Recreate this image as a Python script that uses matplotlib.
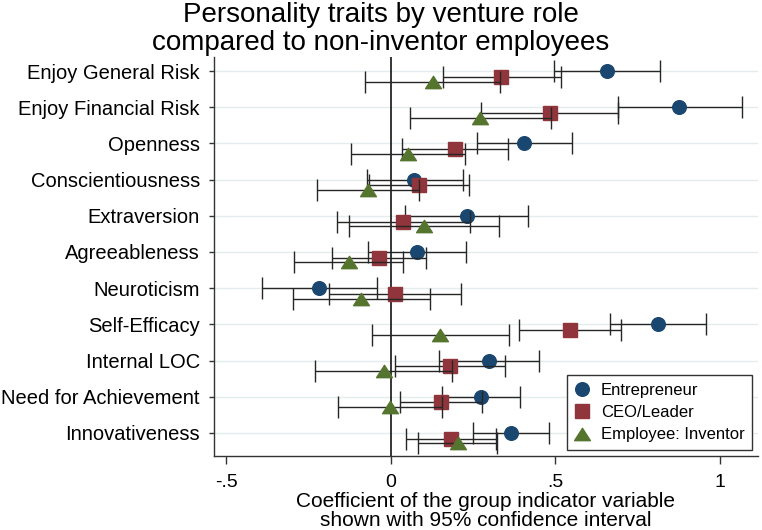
import matplotlib
matplotlib.use('Agg')
import matplotlib.pyplot as plt
from matplotlib.lines import Line2D
from matplotlib.path import Path
import numpy as np

plt.rcParams['font.family'] = ['Liberation Sans', 'DejaVu Sans']

# ---------------- data ----------------
traits = ['Enjoy General Risk', 'Enjoy Financial Risk', 'Openness', 'Conscientiousness',
          'Extraversion', 'Agreeableness', 'Neuroticism', 'Self-Efficacy',
          'Internal LOC', 'Need for Achievement', 'Innovativeness']

ent_coef = [0.656, 0.875, 0.405, 0.071, 0.230, 0.079, -0.219, 0.811, 0.299, 0.274, 0.365]
ent_lo   = [0.496, 0.689, 0.262, -0.073, 0.042, -0.068, -0.392, 0.666, 0.146, 0.156, 0.251]
ent_hi   = [0.818, 1.065, 0.550, 0.219, 0.418, 0.227, -0.043, 0.957, 0.450, 0.393, 0.480]

ceo_coef = [0.336, 0.483, 0.194, 0.086, 0.038, -0.035, 0.013, 0.544, 0.180, 0.153, 0.182]
ceo_lo   = [0.159, 0.274, 0.033, -0.066, -0.164, -0.177, -0.188, 0.389, 0.013, 0.028, 0.047]
ceo_hi   = [0.517, 0.691, 0.357, 0.238, 0.241, 0.107, 0.214, 0.698, 0.347, 0.278, 0.319]

inv_coef = [0.128, 0.271, 0.051, -0.068, 0.101, -0.127, -0.090, 0.150, -0.022, -0.002, 0.203]
inv_lo   = [-0.078, 0.059, -0.121, -0.223, -0.127, -0.294, -0.298, -0.057, -0.229, -0.159, 0.082]
inv_hi   = [0.333, 0.485, 0.225, 0.087, 0.328, 0.038, 0.118, 0.359, 0.187, 0.157, 0.322]

series_names = ['Entrepreneur', 'CEO/Leader', 'Employee: Inventor']
x_ticks = [-0.5, 0, 0.5, 1]
x_tick_labels = ['-.5', '0', '.5', '1']

title_lines = ['Personality traits by venture role', 'compared to non-inventor employees']
xlabel_lines = ['Coefficient of the group indicator variable', 'shown with 95% confidence interval']

# ---------------- figure ----------------
W, H = 762, 530
fig = plt.figure(figsize=(W / 100, H / 100), dpi=100)
ax_l, ax_r, ax_t, ax_b = 213.6, 758, 57, 456
ax = fig.add_axes([ax_l / W, 1 - ax_b / H, (ax_r - ax_l) / W, (ax_b - ax_t) / H])

tri = Path([(0, 0.78), (-1, -0.78), (1, -0.78), (0, 0.78)],
           [Path.MOVETO, Path.LINETO, Path.LINETO, Path.CLOSEPOLY])

styles = [
    dict(color='#1a476f', marker='o', ms=9.8, off=0.0),
    dict(color='#90353b', marker='s', ms=10.0, off=0.16),
    dict(color='#55752f', marker=tri, ms=11.4, off=0.29),
]
data = [(ent_coef, ent_lo, ent_hi), (ceo_coef, ceo_lo, ceo_hi), (inv_coef, inv_lo, inv_hi)]

y = np.arange(len(traits))
for k, ((coef, lo, hi), st) in enumerate(zip(data, styles)):
    c = np.array(coef)
    lo = np.array(lo)
    hi = np.array(hi)
    yy = y + st['off']
    ax.errorbar(c, yy, xerr=[c - lo, hi - c], fmt='none', ecolor='#262626',
                elinewidth=1.0, capsize=8, capthick=1.0, zorder=2 + k)
    ax.plot(c, yy, linestyle='none', marker=st['marker'], ms=st['ms'],
            color=st['color'], mec=st['color'], zorder=2.5 + k)

ax.axvline(0, color='black', lw=1.1, zorder=1.5)

ax.set_xlim(-0.538, 1.115)
ax.set_ylim(10.64, -0.39)
ax.set_yticks(y)
ax.set_yticklabels(traits)
ax.set_xticks(x_ticks)
ax.set_xticklabels(x_tick_labels)
ax.yaxis.grid(True, color='#e3ecee', lw=1.0)
ax.set_axisbelow(True)

for s in ['top', 'right']:
    ax.spines[s].set_visible(False)
for s in ['left', 'bottom']:
    ax.spines[s].set_color('#333333')
    ax.spines[s].set_linewidth(1.0)

ax.tick_params(axis='x', length=5.8, width=1, pad=7, labelsize=14, color='#333333')
ax.tick_params(axis='y', length=3.4, width=1, pad=6.5, labelsize=14.5, color='#333333')

handles = [Line2D([], [], linestyle='none', marker=st['marker'], ms=st['ms'],
                  color=st['color'], mec=st['color']) for st in styles]
leg = ax.legend(handles, series_names, loc='lower right',
                bbox_to_anchor=(752 / W, (H - 450) / H), bbox_transform=fig.transFigure,
                borderaxespad=0, frameon=True, fancybox=False, edgecolor='#333333',
                fontsize=12, handlelength=1.0, handletextpad=0.6,
                labelspacing=0.45, borderpad=0.45, framealpha=1)
leg.get_frame().set_linewidth(1.0)

# title (two lines)
fig.text(0.5, 1 - 22 / H, title_lines[0], ha='center', va='baseline', fontsize=20)
fig.text(0.5, 1 - 49.5 / H, title_lines[1], ha='center', va='baseline', fontsize=20)

# x-axis label (two lines)
xc = ((ax_l + ax_r) / 2) / W
fig.text(xc, 1 - 507 / H, xlabel_lines[0], ha='center', va='baseline', fontsize=15)
fig.text(xc, 1 - 526 / H, xlabel_lines[1], ha='center', va='baseline', fontsize=15)

fig.savefig('out.png', dpi=100)
